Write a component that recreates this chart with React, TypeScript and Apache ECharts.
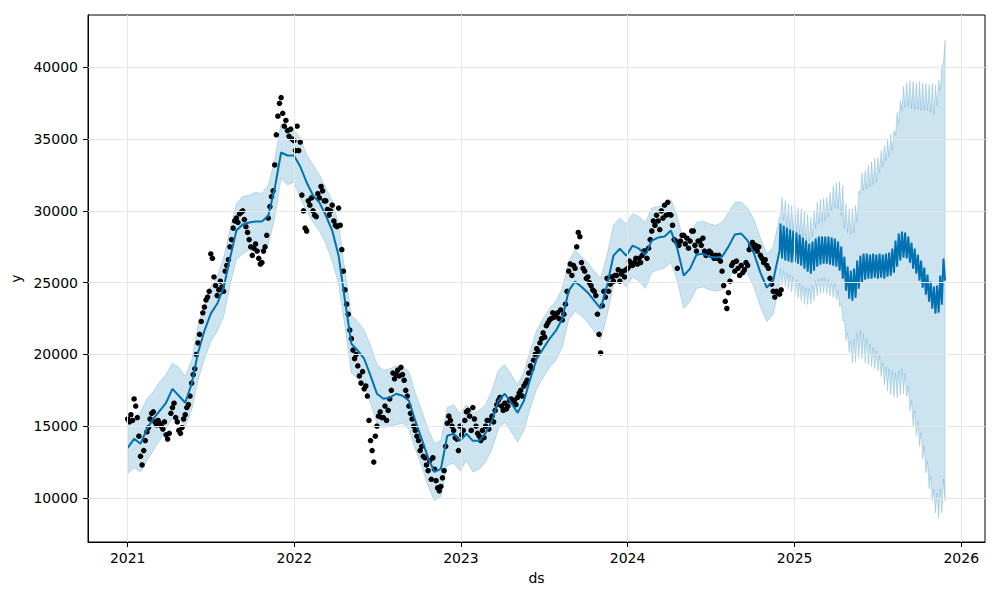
import React, { useEffect, useRef } from "react";
import * as echarts from "echarts";

const DAY = 86400000;

// Axis extents and tick labels
const X_MIN = Date.UTC(2020, 9, 6);
const X_MAX = Date.UTC(2026, 1, 22);
const Y_MIN = 6930;
const Y_MAX = 43650;
const yearTicks = [2021, 2022, 2023, 2024, 2025, 2026];
const yTicks = [10000, 15000, 20000, 25000, 30000, 35000, 40000];

// Observations (y), two readings per week from 2021-01-01
const OBS_START = Date.UTC(2021, 0, 1);
const OBS_STEP_DAYS = 3.5;
const observed = [
  15500, 15300, 15800, 15400, 16900, 16400, 15600, 14300, 12900, 12300,
  13300, 14000, 14600, 14900, 15500, 15900, 16000, 15300, 15100, 15400,
  15200, 15000, 14800, 15300, 14400, 14100, 14500, 15900, 16300, 16600,
  15600, 15300, 14700, 14500, 14900, 15500, 15800, 16300, 16500, 17100,
  18000, 18600, 19000, 20000, 20800, 21400, 22300, 22900, 23300, 23800,
  24000, 24400, 27000, 26700, 25400, 24800, 24100, 24500, 25100, 24700,
  24400, 25800, 26200, 26600, 27500, 28000, 28800, 29300, 29500, 29200,
  29800, 29900, 30000, 29400, 28900, 28500, 28000, 27500, 26900, 27400,
  27700, 27200, 26700, 26300, 26400, 27200, 27500, 28300, 29500, 30300,
  31000, 31400, 33200, 35300, 36600, 37500, 37900, 36800, 35900, 36300,
  35600, 35200, 35700, 35000, 34900, 34200, 35900, 34200, 34800, 31100,
  30000, 28800, 28600, 30700, 30400, 30900, 30000, 29700, 29600, 31200,
  30900, 31700, 31400, 30700, 30700, 30100, 29700, 30000, 30400, 29300,
  29000, 28900, 30200, 29000, 27300, 25800, 24500, 23500, 22800, 21700,
  21100, 20300, 19700, 20000, 19200, 18500, 18000, 18800, 17600, 17800,
  17100, 15400, 14000, 13300, 12500, 14300, 15000, 15700, 16000, 15600,
  15600, 16400, 15400, 16100, 16900, 17500, 18700, 18300, 18600, 18900,
  18500, 19100, 18600, 18200, 17500, 17100, 16400, 15900, 15500, 15000,
  14700, 14300, 14000, 13300, 13600, 12900, 12800, 12300, 11900, 12600,
  11300, 12800, 12000, 11200, 10700, 10500, 10800, 11400, 11900, 13600,
  15200, 15700, 15400, 15000, 14700, 14200, 14100, 13300, 15000, 14400,
  14700, 15400, 16000, 16100, 15700, 14700, 16300, 15500, 15000, 14500,
  14300, 14000, 14700, 14200, 15000, 15400, 14800, 15400, 15700, 15300,
  16100, 16500, 16800, 17000, 16400, 16100, 16600, 16200, 16400, 16800,
  16900, 16700, 16800, 16500, 17000, 17300, 17500, 17100, 17800, 18000,
  18200, 18700, 19200, 19000, 19600, 20000, 20400, 20200, 20800, 21100,
  21500, 21200, 22000, 22200, 22400, 22500, 22900, 22600, 22700, 22900,
  22500, 23100, 22400, 22800, 23500, 24400, 25800, 26300, 25500, 26200,
  26000, 27500, 28500, 28200, 26400, 26000, 25800, 25300, 25400, 25000,
  24800, 24500, 24400, 24100, 22800, 21400, 20100, 23400, 24400, 24000,
  25300, 24400, 24900, 25400, 25100, 25500, 25500, 25900, 25100, 25600,
  25800, 25400, 25900, 26000, 26500, 26200, 26200, 26400, 26700, 26300,
  26700, 26400, 26900, 27200, 27200, 26700, 27400, 28000, 28600, 29300,
  29000, 29700, 29300, 28700, 30000, 29500, 30400, 29700, 30600, 29800,
  29700, 29000, 28000, 27900, 26000, 27600, 27900, 28300, 28300, 27700,
  28100, 27400, 27900, 28600, 28600, 27600, 27200, 27900, 27900, 27600,
  28100, 27200, 26900, 27100, 27200, 27100, 26900, 26700, 26900, 26700,
  26900, 26500, 25800, 24800, 23700, 23200, 24300, 25100, 26200, 26400,
  25800, 26500, 26000, 25500, 26200, 25700, 25900, 26400, 26200, 27300,
  27600, 27800, 27400, 27600, 27200, 27500, 26900, 26700, 26400, 26600,
  26200, 26000, 25300, 24900, 24400, 24000, 24400, 24300, 24200, 24500,
];

// In-sample fit, every 14 days from 2021-01-01
const FIT_START = Date.UTC(2021, 0, 1);
const FIT_STEP_DAYS = 14;
const fitYhat = [
  13490, 14120, 13770, 14810, 15510, 16070, 16630, 17600, 17120, 16630,
  17950, 20120, 21650, 22840, 23530, 24650, 26680, 28630, 29050, 29190,
  29260, 29260, 29680, 31560, 34070, 33860, 33860, 33090, 31980, 31070,
  30580, 29680, 28630, 26880, 23740, 20740, 20260, 19700, 18510, 17260,
  16910, 16980, 17260, 17120, 16770, 15370, 14120, 12790, 11810, 12020,
  14330, 14470, 13980, 14470, 13980, 13980, 14530, 15370, 16770, 17260,
  16630, 15930, 16770, 18300, 19700, 20400, 21090, 21650, 22490, 24440,
  25070, 24720, 24300, 23740, 23190, 24790, 26880, 27370, 26880, 27580,
  27370, 26950, 27930, 28140, 28210, 28630, 27370, 25490, 25980, 26950,
  27020, 26810, 26750, 26810, 27510, 28350, 28420, 27930, 27020, 25700,
  24650, 25140, 27230,
];
const fitUpper = [
  14900, 15600, 16000, 16900, 17400, 18100, 18600, 19400, 19100, 18500,
  19600, 22000, 23500, 24700, 25400, 26700, 28700, 30500, 31000, 31100,
  31300, 31200, 31800, 33600, 36100, 35800, 35600, 35100, 33900, 33200,
  32500, 31600, 30700, 29100, 25800, 22700, 22300, 21700, 20600, 19300,
  18900, 19000, 19200, 19100, 18800, 17300, 16100, 14800, 13800, 14000,
  16300, 16500, 15900, 16500, 15900, 16100, 16500, 17500, 18900, 19300,
  18600, 17900, 18800, 20300, 21700, 22500, 23200, 23700, 24600, 26500,
  27300, 26800, 26400, 25800, 25300, 26900, 29000, 29500, 29100, 29800,
  29600, 29200, 30200, 30300, 30400, 30800, 29600, 27800, 28300, 29200,
  29300, 29100, 29000, 29200, 29900, 30600, 30600, 30200, 29400, 28100,
  27000, 27500, 29600,
];
const fitLower = [
  11700, 12100, 11800, 12600, 13300, 14000, 14800, 15600, 15500, 15000,
  16100, 18200, 19700, 20900, 21600, 22600, 24800, 26600, 27000, 27300,
  27100, 27300, 27700, 29500, 32300, 31800, 32000, 30900, 30000, 29200,
  28600, 27700, 26500, 24900, 21900, 18700, 18300, 17700, 16600, 15200,
  14900, 15000, 15100, 15200, 14800, 13400, 12200, 10800, 9800, 10100,
  12300, 12400, 11900, 12600, 11800, 12000, 12500, 13400, 14800, 15300,
  14600, 13900, 14700, 16300, 17600, 18400, 19100, 19600, 20500, 22400,
  23000, 22700, 22200, 21600, 21000, 22700, 24800, 25200, 24700, 25400,
  25100, 24600, 25700, 25900, 26000, 26400, 25100, 23200, 23700, 24600,
  24700, 24500, 24400, 24500, 25200, 26000, 26100, 25600, 24700, 23300,
  22300, 22800, 24900,
];

// Forecast, one week per entry from 2024-12-01: weekday level and weekend excursion
const FC_START = Date.UTC(2024, 11, 1);
const fcYhatTop = [
  29120, 28980, 28840, 28700, 28630, 28490, 28350, 28140, 27930, 27720,
  27860, 28070, 28210, 28210, 28210, 28210, 28140, 28070, 27860, 27510,
  26810, 26120, 25840, 25980, 26540, 26880, 27020, 27020, 26950, 27020,
  26950, 27020, 26950, 27020, 27090, 27370, 27930, 28420, 28560, 28490,
  28210, 27790, 27370, 26950, 26540, 26050, 25560, 25070, 24720, 24790,
  25490, 26680,
];
const fcYhatBottom = [
  26680, 26540, 26470, 26400, 26400, 26330, 26190, 25980, 25770, 25630,
  25840, 26120, 26260, 26330, 26330, 26260, 26190, 26120, 25840, 25280,
  24440, 23880, 23740, 23950, 24580, 25000, 25210, 25280, 25280, 25350,
  25280, 25350, 25280, 25420, 25490, 25700, 26120, 26540, 26740, 26680,
  26400, 25980, 25630, 25140, 24650, 24160, 23670, 23190, 22840, 22910,
  23470, 25140,
];
const fcUpperBase = [
  29670, 29330, 28910, 28700, 28630, 28490, 28420, 28210, 27930, 27860,
  28210, 28770, 29120, 29190, 29330, 29610, 30020, 30230, 30160, 29670,
  28770, 28490, 28350, 28490, 29190, 31210, 31420, 31560, 31700, 31840,
  31980, 32680, 33090, 33510, 33790, 34210, 35260, 36090, 37000, 37210,
  37280, 37140, 37070, 37070, 37000, 37000, 37000, 36860, 36720, 37350,
  38400, 40350,
];
const fcUpperSpike = [
  30930, 30720, 30510, 30370, 30370, 30230, 30160, 30020, 29740, 29540,
  30020, 30580, 30790, 30860, 30930, 31280, 31770, 31980, 32050, 31770,
  30510, 30160, 30160, 30370, 31420, 32680, 32810, 33160, 33440, 33650,
  33720, 34210, 34560, 34910, 35330, 35610, 36860, 37700, 38680, 38950,
  39090, 39020, 38950, 39020, 38950, 38880, 38810, 38880, 38740, 39090,
  40140, 41880,
];
const fcLowerBase = [
  25980, 25840, 25700, 25560, 25420, 25210, 25000, 24790, 24650, 24580,
  24790, 25140, 25280, 25350, 25350, 25210, 25070, 24930, 24440, 23540,
  22350, 21510, 20950, 21090, 21510, 21650, 21440, 21090, 20740, 20470,
  20260, 19910, 19420, 19140, 19000, 18860, 18720, 18860, 19000, 18720,
  17810, 16770, 16070, 15370, 14540, 13630, 12580, 11530, 10630, 10350,
  10630, 11330,
];
const fcLowerSpike = [
  24860, 24720, 24580, 24370, 24160, 23950, 23740, 23540, 23470, 23540,
  23740, 24090, 24230, 24300, 24230, 24090, 23950, 23810, 23330, 22350,
  20950, 20120, 19420, 19490, 19770, 19700, 19420, 19280, 19140, 19000,
  18860, 18440, 17880, 17470, 17190, 17050, 16980, 17190, 17260, 17050,
  16070, 15020, 14330, 13630, 12720, 11740, 10630, 9790, 8950, 8600,
  8950, 9790,
];

const FONT = "'DejaVu Sans', sans-serif";
const BLUE = "#0072B2";

function buildOption() {
  const obsData = observed.map((v, i) => [OBS_START + i * OBS_STEP_DAYS * DAY, v]);
  const fitDates = fitYhat.map((_, k) => FIT_START + k * FIT_STEP_DAYS * DAY);

  const fcDates: number[] = [];
  const fcYhat: number[] = [];
  const fcUpper: number[] = [];
  const fcLower: number[] = [];
  for (let j = 0; j < fcYhatTop.length; j++) {
    fcDates.push(FC_START + 7 * j * DAY, FC_START + (7 * j + 3.5) * DAY);
    fcYhat.push(fcYhatTop[j], fcYhatBottom[j]);
    fcUpper.push(fcUpperBase[j], fcUpperSpike[j]);
    fcLower.push(fcLowerBase[j], fcLowerSpike[j]);
  }

  const bandX = [...fitDates, ...fcDates];
  const bandHi = [...fitUpper, ...fcUpper];
  const bandLo = [...fitLower, ...fcLower];

  const lineData = [
    ...fitDates.map((x, k) => [x, fitYhat[k]]),
    ...fcDates.map((x, i) => [x, fcYhat[i]]),
  ];

  const yearTs = yearTicks.map((y) => Date.UTC(y, 0, 1));
  const gridColor = "#e6e6e6";

  return {
    animation: false,
    backgroundColor: "#ffffff",
    grid: {
      left: 88,
      right: 15,
      top: 15,
      bottom: 58,
      show: true,
      borderColor: "#000",
      borderWidth: 1,
      backgroundColor: "transparent",
    },
    xAxis: {
      type: "value",
      min: X_MIN,
      max: X_MAX,
      name: "ds",
      nameLocation: "middle",
      nameGap: 29,
      nameTextStyle: { color: "#000", fontSize: 14, fontFamily: FONT },
      axisLine: { show: true, onZero: false, lineStyle: { color: "#000", width: 1 } },
      axisTick: { show: true, length: 5, customValues: yearTs, lineStyle: { color: "#000", width: 1 } },
      axisLabel: {
        customValues: yearTs,
        formatter: (v: number) => String(new Date(v).getUTCFullYear()),
        color: "#000",
        fontSize: 14,
        fontFamily: FONT,
        margin: 9,
      },
      splitLine: { show: false },
    },
    yAxis: {
      type: "value",
      min: Y_MIN,
      max: Y_MAX,
      name: "y",
      nameLocation: "middle",
      nameGap: 60,
      nameTextStyle: { color: "#000", fontSize: 14, fontFamily: FONT },
      axisLine: { show: true, onZero: false, lineStyle: { color: "#000", width: 1 } },
      axisTick: { show: true, length: 5, customValues: yTicks, lineStyle: { color: "#000", width: 1 } },
      axisLabel: {
        customValues: yTicks,
        formatter: (v: number) => String(v),
        color: "#000",
        fontSize: 14,
        fontFamily: FONT,
        margin: 10,
      },
      splitLine: { show: false },
    },
    series: [
      {
        type: "custom",
        name: "band",
        silent: true,
        z: 1,
        data: bandX.map((x, i) => [x, bandLo[i], bandHi[i]]),
        encode: { x: 0, y: [1, 2] },
        renderItem: (params: any, api: any) => {
          if (params.dataIndex !== 0) return null;
          const pts: number[][] = [];
          for (let i = 0; i < bandX.length; i++) pts.push(api.coord([bandX[i], bandHi[i]]));
          for (let i = bandX.length - 1; i >= 0; i--) pts.push(api.coord([bandX[i], bandLo[i]]));
          return {
            type: "polygon",
            shape: { points: pts },
            style: { fill: "rgba(0,114,178,0.2)", stroke: "rgba(0,114,178,0.2)", lineWidth: 1 },
          };
        },
      },
      {
        type: "line",
        name: "grid",
        silent: true,
        z: 2,
        data: [[yearTs[0], yTicks[0]]],
        showSymbol: false,
        lineStyle: { opacity: 0 },
        markLine: {
          silent: true,
          symbol: ["none", "none"],
          label: { show: false },
          lineStyle: { color: gridColor, width: 1, type: "solid" },
          emphasis: { disabled: true },
          data: [
            ...yearTs.map((t) => ({ xAxis: t })),
            ...yTicks.map((v) => ({ yAxis: v })),
          ],
        },
      },
      {
        type: "scatter",
        name: "y",
        z: 3,
        symbol: "circle",
        symbolSize: 5.5,
        itemStyle: { color: "#000", opacity: 1 },
        data: obsData,
      },
      {
        type: "line",
        name: "yhat",
        z: 4,
        showSymbol: false,
        lineStyle: { color: BLUE, width: 2 },
        data: lineData,
      },
    ],
  };
}

export default function App() {
  const ref = useRef<HTMLDivElement>(null);
  useEffect(() => {
    document.body.style.margin = "0";
    if (!ref.current) return;
    const chart = echarts.init(ref.current, null, { renderer: "svg" });
    chart.setOption(buildOption() as any);
    return () => chart.dispose();
  }, []);
  return <div ref={ref} style={{ width: 1000, height: 600, position: "absolute", left: 0, top: 0 }} />;
}
